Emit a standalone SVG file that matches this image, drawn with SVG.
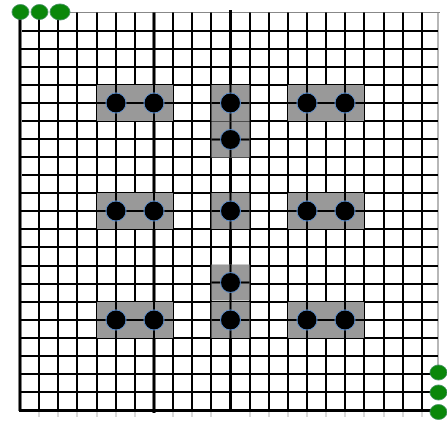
<svg xmlns="http://www.w3.org/2000/svg" width="447" height="423" viewBox="0 0 447 423">
<defs>
<style>
.g{stroke:#000;stroke-width:2;fill:none}
.gt{stroke:#000;stroke-width:3;fill:none}
.edge{stroke:#888;stroke-width:1.2;fill:none}
.tick{stroke:#ccc;stroke-width:1.5;fill:none}
.box{fill:#999}
.cross{stroke:#000;stroke-width:2}
.dot{fill:#000;stroke:#5b8fd0;stroke-width:1}
.gr{fill:#0a870a;stroke:#3a8a5a;stroke-width:0.8}
</style>
<g id="cell">
<rect class="box" x="-19" y="-18" width="38" height="36"/>
<line class="cross" x1="-19" y1="0" x2="19" y2="0"/>
<line class="cross" x1="0" y1="-18" x2="0" y2="18"/>
<circle class="dot" cx="0" cy="0" r="10"/>
</g>
</defs>
<rect width="447" height="423" fill="#fff"/>
<g id="grid">
<path class="tick" d="M39 411V417M58 411V417M77 411V417M97 411V417M116 411V417M135 411V417M173 411V417M192 411V417M211 411V417M250 411V417M269 411V417M288 411V417M307 411V417M326 411V417M345 411V417M364 411V417M384 411V417M403 411V417M422 411V417"/>
<path class="edge" d="M70 12.5H440M438 12.5V366"/>
<path class="g" d="M39 12.5V410M58 12.5V410M77 12.5V410M97 12.5V410M116 12.5V410M135 12.5V410M173 12.5V410M192 12.5V410M211 12.5V410M250 12.5V410M269 12.5V410M288 12.5V410M307 12.5V410M326 12.5V410M345 12.5V410M364 12.5V410M384 12.5V410M403 12.5V410M422 12.5V410"/>
<path class="g" d="M22 31H438M20 49H438M20 67H438M20 85H438M20 103H438M22 121H438M20 139H438M20 157H438M22 175H438M20 193H438M20 211H438M20 229H438M20 247H438M20 266H438M20 284H438M20 302H438M20 320H438M20 338H438M20 356H438M20 374H438M20 392H438"/>
<path class="gt" d="M20 11V411M154 12.5V413M230.5 10V410M19 410.5H432"/>
</g>
<g id="node-r5c5"><use href="#cell" x="116" y="103"/></g>
<g id="node-r5c7"><use href="#cell" x="154" y="103"/></g>
<g id="node-r5c11"><use href="#cell" x="230.5" y="103"/></g>
<g id="node-r5c15"><use href="#cell" x="307" y="103"/></g>
<g id="node-r5c17"><use href="#cell" x="345" y="103"/></g>
<g id="node-r7c11"><use href="#cell" x="230.5" y="139.5"/></g>
<g id="node-r11c5"><use href="#cell" x="116" y="211"/></g>
<g id="node-r11c7"><use href="#cell" x="154" y="211"/></g>
<g id="node-r11c11"><use href="#cell" x="230.5" y="211"/></g>
<g id="node-r11c15"><use href="#cell" x="307" y="211"/></g>
<g id="node-r11c17"><use href="#cell" x="345" y="211"/></g>
<g id="node-r15c11"><use href="#cell" x="230.5" y="282.5"/></g>
<g id="node-r17c5"><use href="#cell" x="116" y="320"/></g>
<g id="node-r17c7"><use href="#cell" x="154" y="320"/></g>
<g id="node-r17c11"><use href="#cell" x="230.5" y="320"/></g>
<g id="node-r17c15"><use href="#cell" x="307" y="320"/></g>
<g id="node-r17c17"><use href="#cell" x="345" y="320"/></g>
<g id="markers-top">
<ellipse class="gr" cx="20.5" cy="12" rx="8.5" ry="7.5"/>
<ellipse class="gr" cx="39.5" cy="12" rx="8.5" ry="7.5"/>
<ellipse class="gr" cx="60" cy="12" rx="10" ry="8"/>
</g>
<g id="markers-right">
<ellipse class="gr" cx="438.5" cy="372.5" rx="8.5" ry="7.5"/>
<ellipse class="gr" cx="438.5" cy="392.5" rx="8.5" ry="7.5"/>
<ellipse class="gr" cx="438.5" cy="412" rx="8.5" ry="7.5"/>
</g>
</svg>
